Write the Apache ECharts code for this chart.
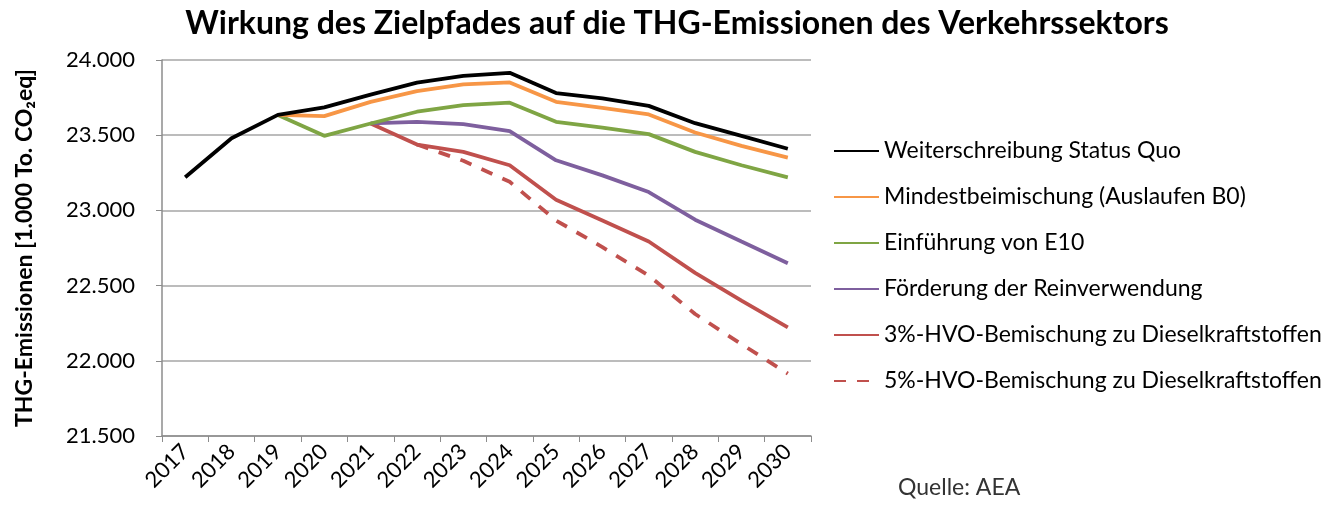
<!DOCTYPE html>
<html>
<head>
<meta charset="utf-8">
<script src="https://cdn.jsdelivr.net/npm/echarts@6/dist/echarts.min.js"></script>
<style>
  html, body { margin: 0; padding: 0; background: #fff; }
  #chart { width: 1337px; height: 507px; }
</style>
</head>
<body>
<div id="chart"></div>
<script>
var myChart = echarts.init(document.getElementById('chart'));

// Jahre
var years = ['2017','2018','2019','2020','2021','2022','2023','2024','2025','2026','2027','2028','2029','2030'];

// Szenarien (1.000 t CO2eq)
var statusQuo   = [23220, 23480, 23635, 23685, 23770, 23850, 23895, 23915, 23780, 23745, 23695, 23580, 23495, 23410];
var mindest     = [null, null, 23635, 23627, 23722, 23793, 23838, 23851, 23722, 23682, 23638, 23518, 23429, 23351];
var e10         = [null, null, 23635, 23496, 23578, 23656, 23700, 23716, 23589, 23551, 23507, 23389, 23300, 23220];
var reinverw    = [null, null, null, null, 23578, 23589, 23573, 23527, 23333, 23233, 23122, 22938, 22793, 22649];
var hvo3        = [null, null, null, null, 23578, 23438, 23389, 23300, 23071, 22933, 22793, 22585, 22400, 22222];
var hvo5        = [null, null, null, null, null, 23438, 23330, 23190, 22933, 22756, 22567, 22311, 22111, 21915];

var names = [
  'Weiterschreibung Status Quo',
  'Mindestbeimischung (Auslaufen B0)',
  'Einführung von E10',
  'Förderung der Reinverwendung',
  '3%-HVO-Bemischung zu Dieselkraftstoffen',
  '5%-HVO-Bemischung zu Dieselkraftstoffen'
];

var font = 'Lato';

function mkLine(name, data, color, dashed, z) {
  return {
    name: name,
    type: 'line',
    data: data,
    symbol: 'none',
    z: z,
    lineStyle: { color: color, width: 3.8, type: dashed ? [12, 11] : 'solid' },
    itemStyle: { color: color }
  };
}

var option = {
  animation: false,
  textStyle: { fontFamily: font },
  title: {
    text: 'Wirkung des Zielpfades auf die THG-Emissionen des Verkehrssektors',
    left: 672,
    textAlign: 'center',
    top: 3,
    textStyle: { fontFamily: font, fontSize: 32, fontWeight: 'bold', color: '#000' }
  },
  legend: {
    orient: 'vertical',
    left: 828,
    top: 133,
    itemWidth: 45,
    itemHeight: 14,
    itemGap: 20,
    itemStyle: { opacity: 0 },
    textStyle: { fontFamily: font, fontSize: 23, color: '#000', lineHeight: 26 },
    data: names
  },
  grid: { left: 162, right: 526, top: 60, bottom: 71, containLabel: false },
  xAxis: {
    type: 'category',
    data: years,
    boundaryGap: true,
    axisLine: { show: true, lineStyle: { color: '#8c8c8c', width: 1.5 } },
    axisTick: { show: true, interval: 0, length: 6, lineStyle: { color: '#8c8c8c' } },
    axisLabel: { interval: 0, rotate: 45, fontSize: 22, color: '#000', fontFamily: font, margin: 12 },
    splitLine: { show: false }
  },
  yAxis: {
    type: 'value',
    min: 21500,
    max: 24000,
    interval: 500,
    name: 'THG-Emissionen [1.000 To. CO₂eq]',
    nameLocation: 'middle',
    nameRotate: 90,
    nameGap: 126,
    nameTextStyle: { fontFamily: font, fontSize: 23, fontWeight: 'bold', color: '#000' },
    axisLine: { show: true, lineStyle: { color: '#8c8c8c', width: 1.5 } },
    axisTick: { show: true, length: 6, lineStyle: { color: '#8c8c8c' } },
    axisLabel: {
      fontSize: 22, color: '#000', fontFamily: font, margin: 27,
      formatter: function (v) { return String(v).replace(/\B(?=(\d{3})+(?!\d))/g, '.'); }
    },
    splitLine: { show: true, lineStyle: { color: '#a6a6a6', width: 1.5 } }
  },
  graphic: [{
    type: 'text',
    left: 898,
    top: 476,
    style: { text: 'Quelle: AEA', font: '23px ' + font, fill: '#333' }
  }],
  series: [
    mkLine(names[5], hvo5, '#C0504D', true, 2),
    mkLine(names[4], hvo3, '#C0504D', false, 3),
    mkLine(names[3], reinverw, '#7E5F9E', false, 4),
    mkLine(names[2], e10, '#7FA544', false, 5),
    mkLine(names[1], mindest, '#F79646', false, 6),
    mkLine(names[0], statusQuo, '#000000', false, 7)
  ]
};

myChart.setOption(option);
</script>
</body>
</html>
